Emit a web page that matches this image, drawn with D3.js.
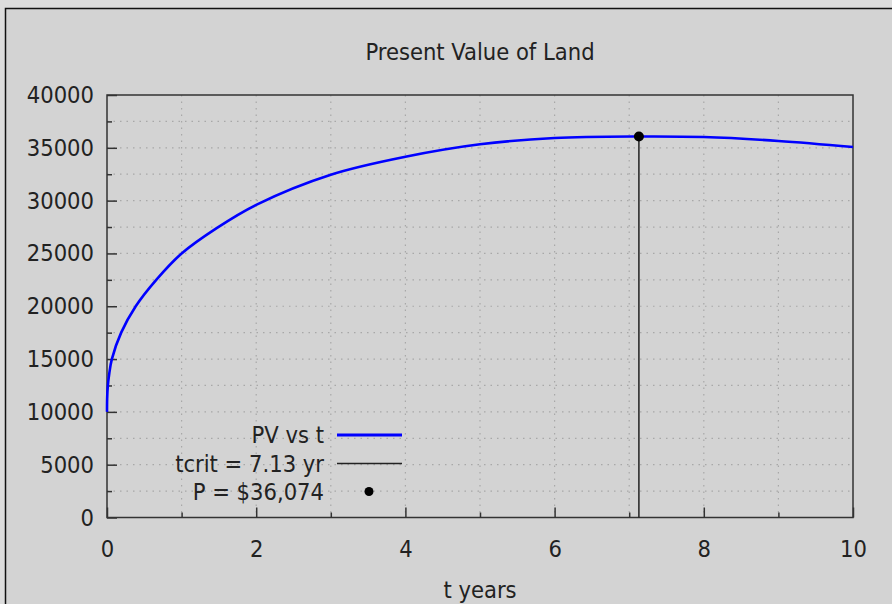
<!DOCTYPE html>
<html>
<head>
<meta charset="utf-8">
<script src="https://cdn.jsdelivr.net/npm/d3@7"></script>
<style>
  html, body { margin: 0; padding: 0; background: #dcdcdc; }
  svg { display: block; }
  text { font-family: "DejaVu Sans Condensed", "DejaVu Sans", sans-serif; font-stretch: condensed; fill: #222; }
</style>
</head>
<body>
<div id="chart"></div>
<script>
// values
const tYears = [0, 0.002, 0.01, 0.03, 0.065, 0.19, 0.385, 0.66, 1, 1.47, 2, 3, 4, 5, 6, 7.13, 8, 9, 10];
const pvValues = [10000, 11250, 12400, 13600, 15000, 17500, 20000, 22500, 25000, 27400, 29600, 32450, 34150, 35330, 35930, 36074, 36020, 35650, 35080];
const tCrit = 7.13;
const pMax = 36074;
const xTicks = [0, 2, 4, 6, 8, 10];
const xMinorTicks = [1, 3, 5, 7, 9];
const yTicks = [0, 5000, 10000, 15000, 20000, 25000, 30000, 35000, 40000];
const yMinorTicks = [2500, 7500, 12500, 17500, 22500, 27500, 32500, 37500];
const legendLabels = ["PV vs t", "tcrit = 7.13 yr", "P = $36,074"];

const width = 892;
const height = 604;
const margin = { top: 95, right: 39, bottom: 86.5, left: 107 };
const plotW = width - margin.left - margin.right;
const plotH = height - margin.top - margin.bottom;
const fontSize = "23.5px";

const svg = d3.select("#chart")
  .append("svg")
  .attr("width", width)
  .attr("height", height);

// window frame, top and left edges visible
svg.append("rect")
  .attr("x", 5).attr("y", 8)
  .attr("width", width).attr("height", height)
  .attr("fill", "#d3d3d3");
svg.append("path")
  .attr("d", `M5.5,${height} V8.5 H${width}`)
  .attr("fill", "none")
  .attr("stroke", "#111")
  .attr("stroke-width", 1.5);

const x = d3.scaleLinear().domain([0, 10]).range([0, plotW]);
const y = d3.scaleLinear().domain([0, 40000]).range([plotH, 0]);

const g = svg.append("g")
  .attr("transform", `translate(${margin.left}, ${margin.top})`);

// dotted grid on major and minor ticks
const grid = g.append("g")
  .attr("stroke", "#a8a8a8")
  .attr("stroke-width", 1.2)
  .attr("stroke-dasharray", "1.5,5");
grid.selectAll(".vgrid")
  .data(xTicks.concat(xMinorTicks).filter(d => d > 0 && d < 10))
  .enter()
  .append("line")
  .attr("x1", d => x(d)).attr("x2", d => x(d))
  .attr("y1", 0).attr("y2", plotH);
grid.selectAll(".hgrid")
  .data(yTicks.concat(yMinorTicks).filter(d => d > 0 && d < 40000))
  .enter()
  .append("line")
  .attr("x1", 0).attr("x2", plotW)
  .attr("y1", d => y(d)).attr("y2", d => y(d));

// axes, ticks pointing inward
const xAxis = g.append("g")
  .attr("transform", `translate(0, ${plotH})`)
  .call(d3.axisBottom(x).tickValues(xTicks).tickSize(-10).tickSizeOuter(0));
const xMinor = g.append("g")
  .attr("transform", `translate(0, ${plotH})`)
  .call(d3.axisBottom(x).tickValues(xMinorTicks).tickSize(-5).tickFormat("").tickSizeOuter(0));
const yAxis = g.append("g")
  .call(d3.axisLeft(y).tickValues(yTicks).tickFormat(d3.format("d")).tickSize(-10).tickSizeOuter(0));
const yMinor = g.append("g")
  .call(d3.axisLeft(y).tickValues(yMinorTicks).tickSize(-5).tickFormat("").tickSizeOuter(0));

[xAxis, xMinor, yAxis, yMinor].forEach(a => {
  a.select(".domain").remove();
  a.selectAll(".tick line").attr("stroke", "#333").attr("stroke-width", 1.5);
  a.selectAll("text")
    .style("font-family", "\"DejaVu Sans Condensed\", \"DejaVu Sans\", sans-serif")
    .style("font-stretch", "condensed")
    .style("font-size", fontSize)
    .attr("fill", "#222");
});
xAxis.selectAll("text").attr("dy", "0.35em").attr("y", 31);
yAxis.selectAll("text").attr("x", -13);

// plot border
g.append("rect")
  .attr("width", plotW).attr("height", plotH)
  .attr("fill", "none")
  .attr("stroke", "#333")
  .attr("stroke-width", 1.5);

// critical time line
g.append("line")
  .attr("x1", x(tCrit)).attr("x2", x(tCrit))
  .attr("y1", y(0)).attr("y2", y(pMax))
  .attr("stroke", "#222")
  .attr("stroke-width", 1.5);

// PV curve
const line = d3.line()
  .x((d, i) => x(tYears[i]))
  .y(d => y(d))
  .curve(d3.curveCatmullRom.alpha(0.5));
g.append("path")
  .datum(pvValues)
  .attr("d", line)
  .attr("fill", "none")
  .attr("stroke", "#0000ff")
  .attr("stroke-width", 2.6);

// maximum point
g.append("circle")
  .attr("cx", x(tCrit)).attr("cy", y(pMax))
  .attr("r", 5)
  .attr("fill", "#000");

// title and axis label
svg.append("text")
  .attr("x", margin.left + plotW / 2)
  .attr("y", 52)
  .attr("dy", "0.35em")
  .attr("text-anchor", "middle")
  .style("font-size", fontSize)
  .text("Present Value of Land");
svg.append("text")
  .attr("x", margin.left + plotW / 2)
  .attr("y", 590)
  .attr("dy", "0.35em")
  .attr("text-anchor", "middle")
  .style("font-size", fontSize)
  .text("t years");

// legend
const legend = svg.append("g");
const rowY = [435, 463.5, 491.5];
legend.selectAll(".legend-label")
  .data(legendLabels)
  .enter()
  .append("text")
  .attr("x", 324)
  .attr("y", (d, i) => rowY[i])
  .attr("dy", "0.35em")
  .attr("text-anchor", "end")
  .style("font-size", fontSize)
  .text(d => d);
legend.append("line")
  .attr("x1", 337).attr("x2", 402)
  .attr("y1", rowY[0]).attr("y2", rowY[0])
  .attr("stroke", "#0000ff").attr("stroke-width", 3);
legend.append("line")
  .attr("x1", 337).attr("x2", 402)
  .attr("y1", rowY[1]).attr("y2", rowY[1])
  .attr("stroke", "#222").attr("stroke-width", 1.5);
legend.append("circle")
  .attr("cx", 369).attr("cy", rowY[2])
  .attr("r", 4.5)
  .attr("fill", "#000");
</script>
</body>
</html>
